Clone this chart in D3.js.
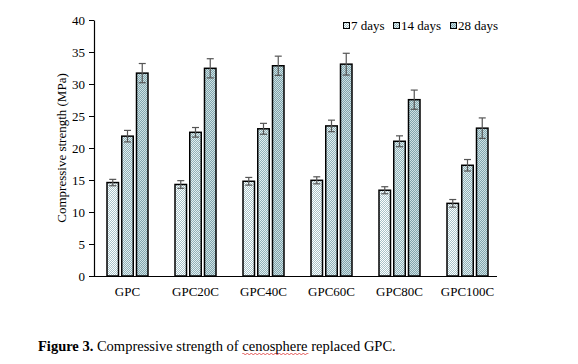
<!DOCTYPE html>
<html>
<head>
<meta charset="utf-8">
<script src="https://cdn.jsdelivr.net/npm/d3@7"></script>
<style>
  body { margin: 0; background: #fff; }
  svg { display: block; font-family: "Liberation Serif", "Times New Roman", serif; }
</style>
</head>
<body>
<svg id="chart" width="578" height="364"></svg>
<script>
var categories = ['GPC', 'GPC20C', 'GPC40C', 'GPC60C', 'GPC80C', 'GPC100C'];
var seriesNames = ['7 days', '14 days', '28 days'];
var days7 = [14.6, 14.3, 14.8, 14.95, 13.4, 11.35];
var days14 = [21.85, 22.45, 23.0, 23.45, 21.05, 17.3];
var days28 = [31.7, 32.45, 32.85, 33.1, 27.55, 23.1];
var err7 = [0.5, 0.6, 0.6, 0.55, 0.55, 0.6];
var err14 = [0.9, 0.75, 0.85, 0.9, 0.85, 0.9];
var err28 = [1.5, 1.5, 1.5, 1.7, 1.5, 1.6];
var yTicks = [0, 5, 10, 15, 20, 25, 30, 35, 40];

var values = [days7, days14, days28];
var errors = [err7, err14, err28];

var svg = d3.select('#chart');

// checkered fills, lighter to darker
var fills = [
  { id: 'p7', bg: '#ffffff', fg: '#a7c3c9' },
  { id: 'p14', bg: '#e4eef0', fg: '#8fb2b9' },
  { id: 'p28', bg: '#cfe0e3', fg: '#7fa5ad' }
];
var defs = svg.append('defs');
fills.forEach(function(f) {
  var p = defs.append('pattern')
    .attr('id', f.id)
    .attr('patternUnits', 'userSpaceOnUse')
    .attr('width', 2).attr('height', 2);
  p.append('rect').attr('width', 2).attr('height', 2).attr('fill', f.bg);
  p.append('rect').attr('width', 1).attr('height', 1).attr('fill', f.fg);
  p.append('rect').attr('x', 1).attr('y', 1).attr('width', 1).attr('height', 1).attr('fill', f.fg);
});

var y = d3.scaleLinear().domain([0, 40]).range([276, 20]);
var x0 = d3.scaleBand().domain(categories).range([93.5, 501.5]);
var x1 = d3.scaleBand().domain(seriesNames).range([0, 41]).paddingInner(0.22);

// y axis
var yAxis = svg.append('g')
  .attr('transform', 'translate(94,0)')
  .call(d3.axisLeft(y).tickValues(yTicks).tickSize(5).tickPadding(4).tickSizeOuter(0));
yAxis.select('.domain').attr('stroke', '#000').attr('stroke-width', 1.2);
yAxis.selectAll('.tick line').attr('stroke', '#000');
yAxis.selectAll('.tick text')
  .attr('font-family', 'Liberation Serif, Times New Roman, serif')
  .attr('font-size', 13).attr('fill', '#000');

// bars
var groups = svg.append('g').selectAll('g')
  .data(categories)
  .join('g')
  .attr('transform', function(d) { return 'translate(' + (x0(d) + x0.bandwidth() / 2 - 20.5) + ',0)'; });

groups.selectAll('rect')
  .data(function(d, i) {
    return seriesNames.map(function(s, k) { return { s: s, k: k, v: values[k][i], e: errors[k][i] }; });
  })
  .join('rect')
  .attr('x', function(d) { return x1(d.s); })
  .attr('y', function(d) { return y(d.v); })
  .attr('width', x1.bandwidth())
  .attr('height', function(d) { return y(0) - y(d.v); })
  .attr('fill', function(d) { return 'url(#' + fills[d.k].id + ')'; })
  .attr('stroke', '#000')
  .attr('stroke-width', 1.5);

// error bars
var eb = groups.selectAll('g.err')
  .data(function(d, i) {
    return seriesNames.map(function(s, k) { return { s: s, v: values[k][i], e: errors[k][i] }; });
  })
  .join('g')
  .attr('class', 'err')
  .attr('stroke', '#555')
  .attr('stroke-width', 1.2);
eb.append('line')
  .attr('x1', function(d) { return x1(d.s) + x1.bandwidth() / 2; })
  .attr('x2', function(d) { return x1(d.s) + x1.bandwidth() / 2; })
  .attr('y1', function(d) { return y(d.v - d.e); })
  .attr('y2', function(d) { return y(d.v + d.e); });
[-1, 1].forEach(function(sgn) {
  eb.append('line')
    .attr('x1', function(d) { return x1(d.s) + x1.bandwidth() / 2 - 3.5; })
    .attr('x2', function(d) { return x1(d.s) + x1.bandwidth() / 2 + 3.5; })
    .attr('y1', function(d) { return y(d.v + sgn * d.e); })
    .attr('y2', function(d) { return y(d.v + sgn * d.e); });
});

// x axis
var xAxis = svg.append('g')
  .attr('transform', 'translate(0,276)')
  .call(d3.axisBottom(x0).tickSize(0).tickPadding(11));
xAxis.select('.domain').attr('d', 'M94,0.5H497').attr('stroke', '#000').attr('stroke-width', 1.2);
xAxis.selectAll('.tick text')
  .attr('font-family', 'Liberation Serif, Times New Roman, serif')
  .attr('font-size', 13).attr('fill', '#000');

// y label
svg.append('text')
  .attr('transform', 'translate(66,148) rotate(-90)')
  .attr('text-anchor', 'middle')
  .attr('font-size', 13)
  .text('Compressive strength (MPa)');

// legend
var legX = [343, 393, 450];
var leg = svg.append('g').selectAll('g')
  .data(seriesNames)
  .join('g')
  .attr('transform', function(d, i) { return 'translate(' + legX[i] + ',20)'; });
leg.append('rect')
  .attr('x', 0.5).attr('y', 2.5).attr('width', 6).attr('height', 6)
  .attr('fill', function(d, i) { return 'url(#' + fills[i].id + ')'; })
  .attr('stroke', '#000').attr('stroke-width', 1);
leg.append('text')
  .attr('x', 8).attr('y', 9.5)
  .attr('font-size', 13)
  .text(function(d) { return d; });

// caption
var cap = svg.append('text')
  .attr('x', 38).attr('y', 351)
  .attr('font-size', 14.5);
cap.append('tspan').attr('font-weight', 'bold').text('Figure 3.');
cap.append('tspan').text(' Compressive strength of ');
cap.append('tspan').attr('id', 'ceno').text('cenosphere');
cap.append('tspan').text(' replaced GPC.');

var cb = svg.select('#ceno').node().getBBox();
var wave = 'M' + cb.x + ',' + (351 + 3);
for (var wx = cb.x; wx < cb.x + cb.width; wx += 2) {
  wave += 'L' + (wx + 1) + ',' + (351 + ((wx - cb.x) % 4 === 0 ? 2 : 4)) + 'L' + (wx + 2) + ',' + (351 + 3);
}
svg.append('path').attr('d', wave).attr('fill', 'none').attr('stroke', '#d33').attr('stroke-width', 0.8);
</script>
</body>
</html>
